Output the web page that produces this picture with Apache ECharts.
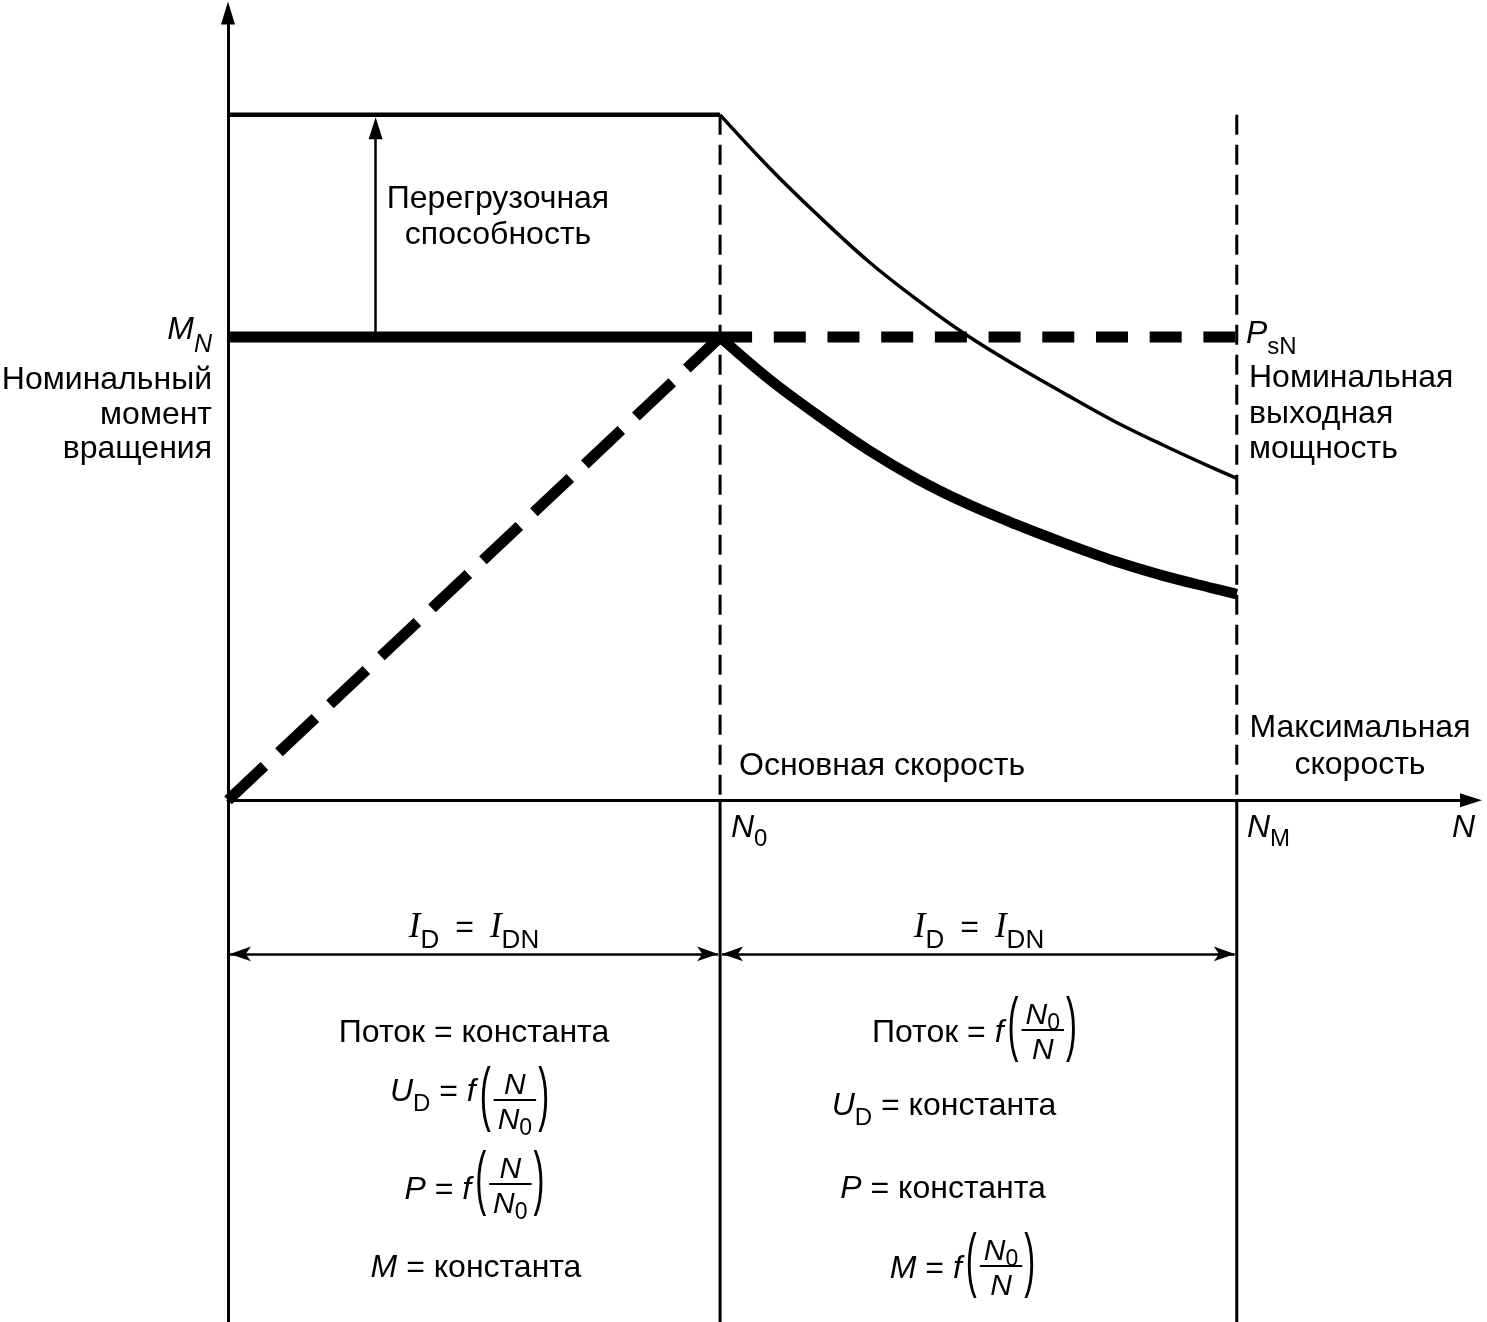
<!DOCTYPE html>
<html><head><meta charset="utf-8">
<script src="https://cdn.jsdelivr.net/npm/echarts@6/dist/echarts.min.js"></script>
<style>html,body{margin:0;padding:0;background:#fff}#c{width:1487px;height:1322px}</style>
</head><body><div id="c"></div>
<script>
// ---------- data (N in % of base speed, M in % of rated torque) ----------
const speedN = [100, 110, 120, 130, 140, 150, 160, 170, 180, 190, 200, 205];
const overloadTorque = [148, 136.6, 126.2, 116.5, 108.1, 100.5, 93.9, 87.8, 81.9, 76.7, 71.8, 69.5];
const ratedTorqueCurve = [100, 90.9, 83.0, 75.7, 69.4, 64.1, 59.6, 55.5, 51.7, 48.5, 45.8, 44.5];
const baseSpeed = 100;      // N0
const maxSpeed = 205;       // NM
const ratedTorque = 100;    // MN
const overloadLevel = 148;  // overload capability level
const overloadArrowN = 30;
const currentBandM = -33.2;

const overloadLabel = ['Перегрузочная', 'способность'];
const ratedTorqueLabel = ['Номинальный', 'момент', 'вращения'];
const ratedPowerLabel = ['Номинальная', 'выходная', 'мощность'];
const baseSpeedLabel = 'Основная скорость';
const maxSpeedLabel = ['Максимальная', 'скорость'];

const xMin = 0, xMax = 252.6, yMin = -112.7, yMax = 170;

// ---------- text layout helpers ----------
const SANS = '"Liberation Sans", Arial, Helvetica, sans-serif';
const SERIF = '"Liberation Serif", "Times New Roman", serif';
const FS = 32;       // main font size
const TDY = 3;       // vertical correction for text centres
const mctx = document.createElement('canvas').getContext('2d');
function fontOf(p) { return (p.it ? 'italic ' : '') + p.sz + 'px ' + (p.fam || SANS); }
function widthOf(p) { mctx.font = fontOf(p); return mctx.measureText(p.t).width; }
const FR_PAD = 6;
function pieceW(p) {
  if (p.frac) return Math.max(rowW(p.num), rowW(p.den)) + 2 * FR_PAD;
  if (p.paren) return widthOf({ t: p.paren, sz: 33 }) + 1;
  return widthOf(p);
}
function rowW(row) { let w = 0; for (const p of row) w += (p.gap || 0) + pieceW(p); return w; }
function place(row, x, cy, els, barY) {
  for (const p of row) {
    x += p.gap || 0;
    const w = pieceW(p);
    if (p.frac) {
      const nw = rowW(p.num), dw = rowW(p.den);
      place(p.num, x + (w - nw) / 2, barY - 17, els, barY);
      place(p.den, x + (w - dw) / 2, barY + 18, els, barY);
      els.push({ type: 'line', silent: true, shape: { x1: x + 2, y1: barY, x2: x + w - 2, y2: barY },
        style: { stroke: '#000', lineWidth: 2 } });
    } else if (p.paren) {
      els.push({ type: 'text', silent: true, x: x, y: barY - 6 + TDY, scaleY: 2.15,
        style: { text: p.paren, fontSize: 33, fontFamily: SANS, fill: '#000', align: 'left', verticalAlign: 'middle' } });
    } else {
      els.push({ type: 'text', silent: true, x: x, y: cy + (p.dy || 0) + TDY,
        style: { text: p.t, fontSize: p.sz, fontStyle: p.it ? 'italic' : 'normal', fontFamily: p.fam || SANS,
          fill: '#000', align: 'left', verticalAlign: 'middle' } });
    }
    x += w;
  }
  return x;
}
function centered(row, cx, cy, els, barDy) { place(row, cx - rowW(row) / 2, cy, els, cy + (barDy || 0)); }
function leftAt(row, x, cy, els) { place(row, x, cy, els, cy); }
function rightAt(row, x, cy, els) { place(row, x - rowW(row), cy, els, cy); }

const it = (t, sz, extra) => Object.assign({ t, sz: sz || FS, it: true }, extra || {});
const sub = (t, sz, dy, extra) => Object.assign({ t, sz: sz || 24, dy: dy == null ? 12 : dy }, extra || {});
const tx = (t, sz, extra) => Object.assign({ t, sz: sz || FS }, extra || {});
const P = (c, gap) => ({ paren: c, gap: gap || 0 });
const fracN_N0 = () => ({ frac: true, num: [it('N', 30)], den: [it('N', 30), sub('0', 23, 8)] });
const fracN0_N = () => ({ frac: true, num: [it('N', 30), sub('0', 23, 8)], den: [it('N', 30)] });

const els = [];
function block(lines, x, cy, align, lh) {
  els.push({ type: 'text', silent: true, x: x, y: cy + TDY,
    style: { text: lines.join('\n'), fontSize: FS, fontFamily: SANS, fill: '#000', align: align,
      verticalAlign: 'middle', lineHeight: lh } });
}
block(overloadLabel, 498, 214, 'center', 36);
block(ratedTorqueLabel, 212, 412, 'right', 34.5);
block(ratedPowerLabel, 1249, 411, 'left', 35.5);
block([baseSpeedLabel], 739, 763, 'left', 35);
block(maxSpeedLabel, 1360, 744, 'center', 37);

rightAt([it('M'), sub('N', 25, 15, { it: true })], 212, 327, els);
leftAt([it('P'), sub('sN', 24, 13)], 1246, 331, els);
leftAt([it('N'), sub('0', 24, 11)], 731, 825, els);
leftAt([it('N'), sub('M', 24, 11)], 1247, 825, els);
leftAt([it('N')], 1452, 825, els);

const IDrow = () => [it('I', 35, { fam: SERIF }), sub('D', 26, 13), tx('=', FS, { gap: 16 }),
  it('I', 35, { fam: SERIF, gap: 16 }), sub('DN', 26, 13)];
centered(IDrow(), 474, 925, els);
centered(IDrow(), 979, 925, els);

// left column formulas
centered([tx('Поток = константа')], 474, 1030, els);
centered([it('U'), sub('D'), tx(' = '), it('f'), P('(', 4), fracN_N0(), P(')')], 470, 1089, els, 11);
centered([it('P'), tx(' = '), it('f'), P('(', 4), fracN_N0(), P(')')], 475, 1187, els, -3);
centered([it('M'), tx(' = константа')], 476, 1265, els);
// right column formulas
centered([tx('Поток = '), it('f'), P('(', 4), fracN0_N(), P(')')], 975, 1030, els, 0);
centered([it('U'), sub('D'), tx(' = константа')], 944, 1103, els);
centered([it('P'), tx(' = константа')], 943, 1186, els);
centered([it('M'), tx(' = '), it('f'), P('(', 4), fracN0_N(), P(')')], 963, 1266, els, 0);

// ---------- chart ----------
function seg(data, width, dash, extra) {
  return Object.assign({ type: 'line', data: data, symbol: 'none', showSymbol: false, silent: true,
    animation: false, clip: false,
    lineStyle: { color: '#000', width: width, type: dash || 'solid', cap: 'butt' } }, extra || {});
}
const curve = (ys) => speedN.map((n, i) => [n, ys[i]]);

const chart = echarts.init(document.getElementById('c'), null, { renderer: 'canvas' });
chart.setOption({
  animation: false,
  backgroundColor: '#fff',
  grid: { left: 228, right: 16, top: 13, bottom: 0, containLabel: false, outerBoundsMode: 'none' },
  xAxis: { type: 'value', min: xMin, max: xMax,
    axisLine: { onZero: true, symbol: ['none', 'triangle'], symbolSize: [14, 22], lineStyle: { color: '#000', width: 3 } },
    axisTick: { show: false }, axisLabel: { show: false }, splitLine: { show: false } },
  yAxis: { type: 'value', min: yMin, max: yMax,
    axisLine: { show: true, onZero: true, symbol: ['none', 'triangle'], symbolSize: [14, 23], lineStyle: { color: '#000', width: 3 } },
    axisTick: { show: false }, axisLabel: { show: false }, splitLine: { show: false } },
  series: [
    seg([[xMin, overloadLevel], [baseSpeed, overloadLevel]], 4.5, 'solid', {
      markLine: { silent: true, animation: false, symbol: ['none', 'triangle'], symbolSize: [14, 22],
        label: { show: false }, lineStyle: { color: '#000', width: 2.5, type: 'solid' },
        data: [[{ coord: [overloadArrowN, ratedTorque] }, { coord: [overloadArrowN, overloadLevel - 2.9] }]] }
    }),
    seg([[xMin, ratedTorque], [baseSpeed, ratedTorque]], 11),
    seg([[baseSpeed, ratedTorque], [maxSpeed, ratedTorque]], 11, [32, 21.7]),
    seg([[xMin, 0], [baseSpeed, ratedTorque]], 11, [50, 20]),
    seg(curve(overloadTorque), 3.5, 'solid', { smooth: 0.35 }),
    seg(curve(ratedTorqueCurve), 10.5, 'solid', { smooth: 0.35 }),
    seg([[baseSpeed, overloadLevel], [baseSpeed, 0]], 3, [20, 10]),
    seg([[baseSpeed, 0], [baseSpeed, yMin]], 3),
    seg([[maxSpeed, overloadLevel], [maxSpeed, 0]], 3, [20, 10]),
    seg([[maxSpeed, 0], [maxSpeed, yMin]], 3, 'solid', {
      markLine: { silent: true, animation: false, symbol: ['arrow', 'arrow'], symbolSize: [11, 21],
        label: { show: false }, lineStyle: { color: '#000', width: 2.5, type: 'solid' },
        data: [
          [{ coord: [xMin + 0.4, currentBandM] }, { coord: [baseSpeed - 0.4, currentBandM] }],
          [{ coord: [baseSpeed + 0.4, currentBandM] }, { coord: [maxSpeed - 0.4, currentBandM] }]
        ] }
    })
  ],
  graphic: { elements: els }
});
</script>
</body></html>
